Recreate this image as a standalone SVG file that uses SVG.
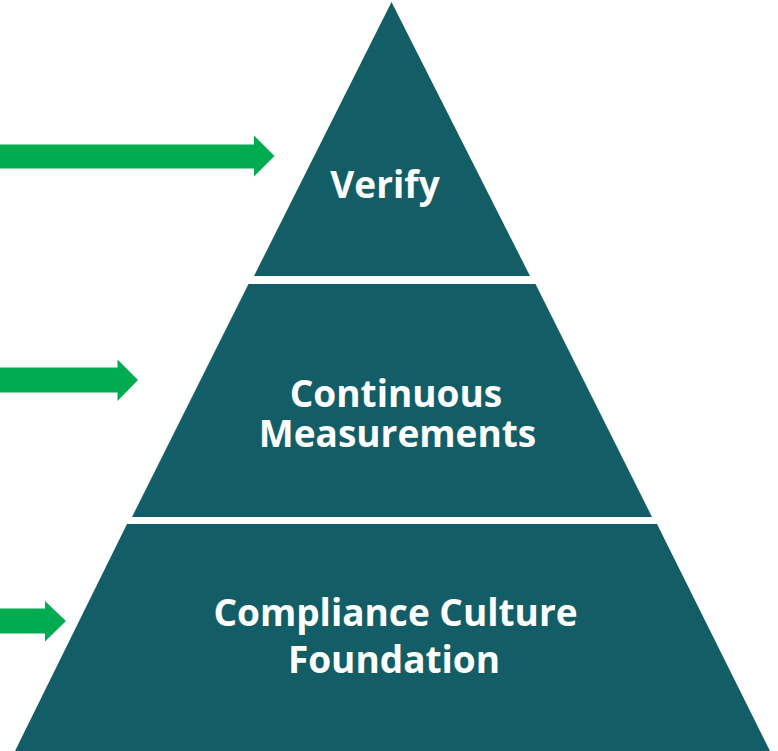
<svg xmlns="http://www.w3.org/2000/svg" width="778" height="751" viewBox="0 0 778 751">
<style>
.tier{fill:#135E66}
.arrow{fill:#00AC4F}
.lbl{fill:#FFFFFF;font-family:"Open Sans","Liberation Sans",sans-serif;font-weight:700;font-size:37px;text-anchor:middle}
</style>
<rect width="778" height="751" fill="#FFFFFF"/>
<g id="connectors">
<polygon class="arrow" points="0,144.5 254,144.5 254,135.5 274.5,156 254,176.5 254,168.5 0,168.5"/>
<polygon class="arrow" points="0,367.5 117.5,367.5 117.5,359.5 138,380 117.5,401 117.5,392.5 0,392.5"/>
<polygon class="arrow" points="0,608.5 45,608.5 45,601 66,621 45,641.5 45,633.5 0,633.5"/>
</g>
<g id="verify">
<polygon class="tier" points="391.5,2 530,276 254,276"/>
<text class="lbl" x="385" y="197.5">Verify</text>
</g>
<g id="continuous-measurements">
<polygon class="tier" points="248.5,284 535.5,284 652,517 132,517"/>
<text class="lbl" x="396" y="406.5">Continuous</text>
<text class="lbl" x="397.5" y="446.5">Measurements</text>
</g>
<g id="compliance-culture-foundation">
<polygon class="tier" points="127,524 657,524 770,751 15,751"/>
<text class="lbl" x="395.5" y="626">Compliance Culture</text>
<text class="lbl" x="394" y="673">Foundation</text>
</g>
</svg>
